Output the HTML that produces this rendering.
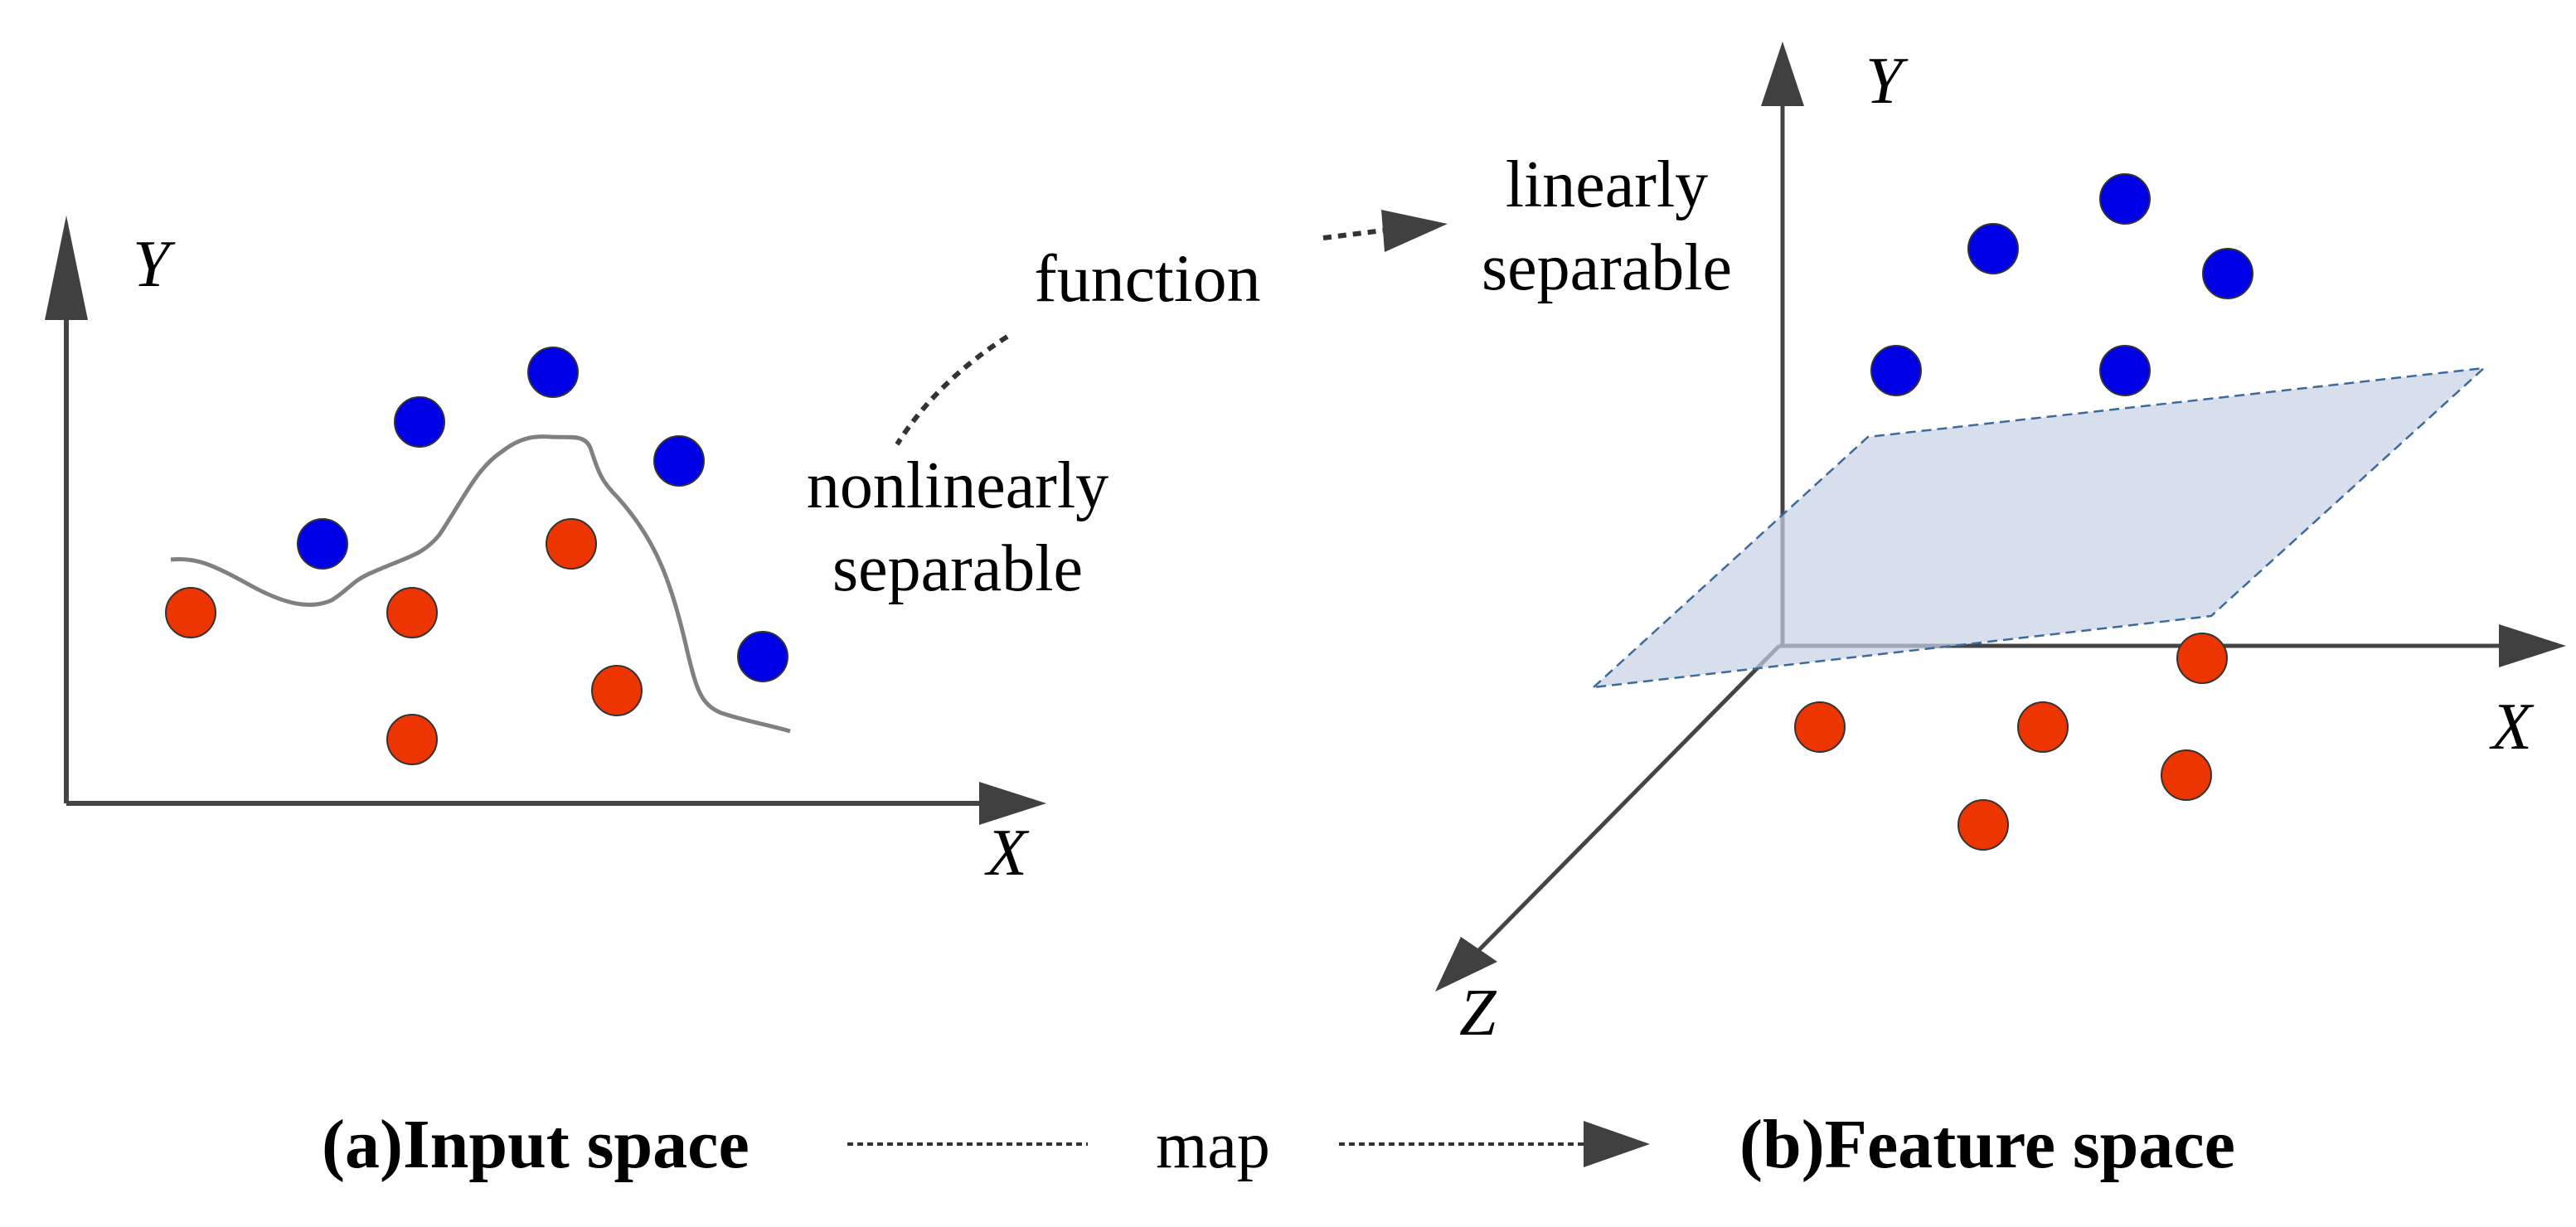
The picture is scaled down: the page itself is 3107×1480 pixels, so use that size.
<!DOCTYPE html>
<html><head><meta charset="utf-8"><style>
html,body{margin:0;padding:0;background:#fff;}
svg{display:block;}
text{font-family:"Liberation Serif",serif;fill:#000;}
</style></head><body>
<svg width="3107" height="1480" viewBox="0 0 3107 1480" xmlns="http://www.w3.org/2000/svg">
<!-- Left panel axes -->
<g stroke="#444" stroke-width="6" fill="none">
<line x1="80" y1="969" x2="80" y2="380"/>
<line x1="80" y1="969" x2="1185" y2="969"/>
</g>
<polygon points="80,260 54,386 106,386" fill="#404040"/>
<polygon points="1262,969 1181,943 1181,995" fill="#404040"/>
<text x="160" y="345" font-size="80" font-style="italic">Y</text>
<text x="1190" y="1055" font-size="80" font-style="italic">X</text>
<!-- curve -->
<path d="M206,675 C235,672 255,680 300,705 C345,730 375,735 400,724 C420,712 425,700 450,690 C490,672 510,670 530,645 C560,600 575,565 605,545 C630,525 650,526 665,527 C690,528 705,524 712,540 C722,570 725,580 745,600 C790,650 810,700 830,790 C840,830 845,850 870,860 C900,870 930,875 953,882" fill="none" stroke="#808080" stroke-width="5"/>
<!-- left dots -->
<g stroke="#333" stroke-width="2">
<g fill="#0000e6">
<circle cx="667" cy="449" r="30"/><circle cx="506" cy="509" r="30"/><circle cx="819" cy="556" r="30"/><circle cx="389" cy="656" r="30"/><circle cx="920" cy="792" r="30"/>
</g>
<g fill="#ec3500">
<circle cx="230" cy="739" r="30"/><circle cx="497" cy="739" r="30"/><circle cx="689" cy="656" r="30"/><circle cx="744" cy="833" r="30"/><circle cx="497" cy="892" r="30"/>
</g>
</g>
<!-- middle labels -->
<text x="1384" y="363" font-size="82" text-anchor="middle">function</text>
<text x="1155" y="612" font-size="80" text-anchor="middle">nonlinearly</text>
<text x="1155" y="712" font-size="80" text-anchor="middle">separable</text>
<path d="M1215,406 Q1130,460 1082,536" fill="none" stroke="#333" stroke-width="6" stroke-dasharray="10,8"/>
<line x1="1596" y1="287" x2="1668" y2="278" stroke="#333" stroke-width="6" stroke-dasharray="10,8"/>
<polygon points="1746,270 1666,253 1670,304" fill="#404040"/>
<text x="1938" y="249" font-size="80" text-anchor="middle">linearly</text>
<text x="1938" y="349" font-size="80" text-anchor="middle">separable</text>
<!-- right panel axes -->
<g stroke="#444" stroke-width="5" fill="none">
<line x1="2150" y1="779" x2="2150" y2="125"/>
<line x1="2146" y1="779" x2="3020" y2="779"/>
<line x1="2146" y1="779" x2="1770" y2="1160"/>
</g>
<polygon points="2150,50 2124,128 2176,128" fill="#404040"/>
<polygon points="3095,779 3014,753 3014,805" fill="#404040"/>
<polygon points="1731,1196 1806,1160 1762,1130" fill="#404040"/>
<!-- plane -->
<polygon points="1922,829 2253,527 2996,444 2667,743" fill="#c5d2e3" fill-opacity="0.7" stroke="#3d6a9a" stroke-width="2.5" stroke-dasharray="12,7"/>
<text x="2250" y="124" font-size="80" font-style="italic">Y</text>
<text x="3005" y="903" font-size="80" font-style="italic">X</text>
<text x="1760" y="1248" font-size="80" font-style="italic">Z</text>
<!-- right dots -->
<g stroke="#333" stroke-width="2">
<g fill="#0000e6">
<circle cx="2563" cy="240" r="30"/><circle cx="2404" cy="300" r="30"/><circle cx="2687" cy="330" r="30"/><circle cx="2287" cy="447" r="30"/><circle cx="2563" cy="447" r="30"/>
</g>
<g fill="#ec3500">
<circle cx="2656" cy="794" r="30"/><circle cx="2195" cy="877" r="30"/><circle cx="2464" cy="877" r="30"/><circle cx="2637" cy="935" r="30"/><circle cx="2392" cy="995" r="30"/>
</g>
</g>
<!-- caption -->
<text x="388" y="1408" font-size="84" font-weight="bold">(a)Input space</text>
<line x1="1022" y1="1380" x2="1312" y2="1380" stroke="#333" stroke-width="4" stroke-dasharray="7,5"/>
<text x="1463" y="1408" font-size="80" text-anchor="middle">map</text>
<line x1="1615" y1="1380" x2="1912" y2="1380" stroke="#333" stroke-width="4" stroke-dasharray="7,5"/>
<polygon points="1990,1380 1910,1352 1910,1408" fill="#404040"/>
<text x="2098" y="1408" font-size="84" font-weight="bold">(b)Feature space</text>
</svg>
</body></html>
